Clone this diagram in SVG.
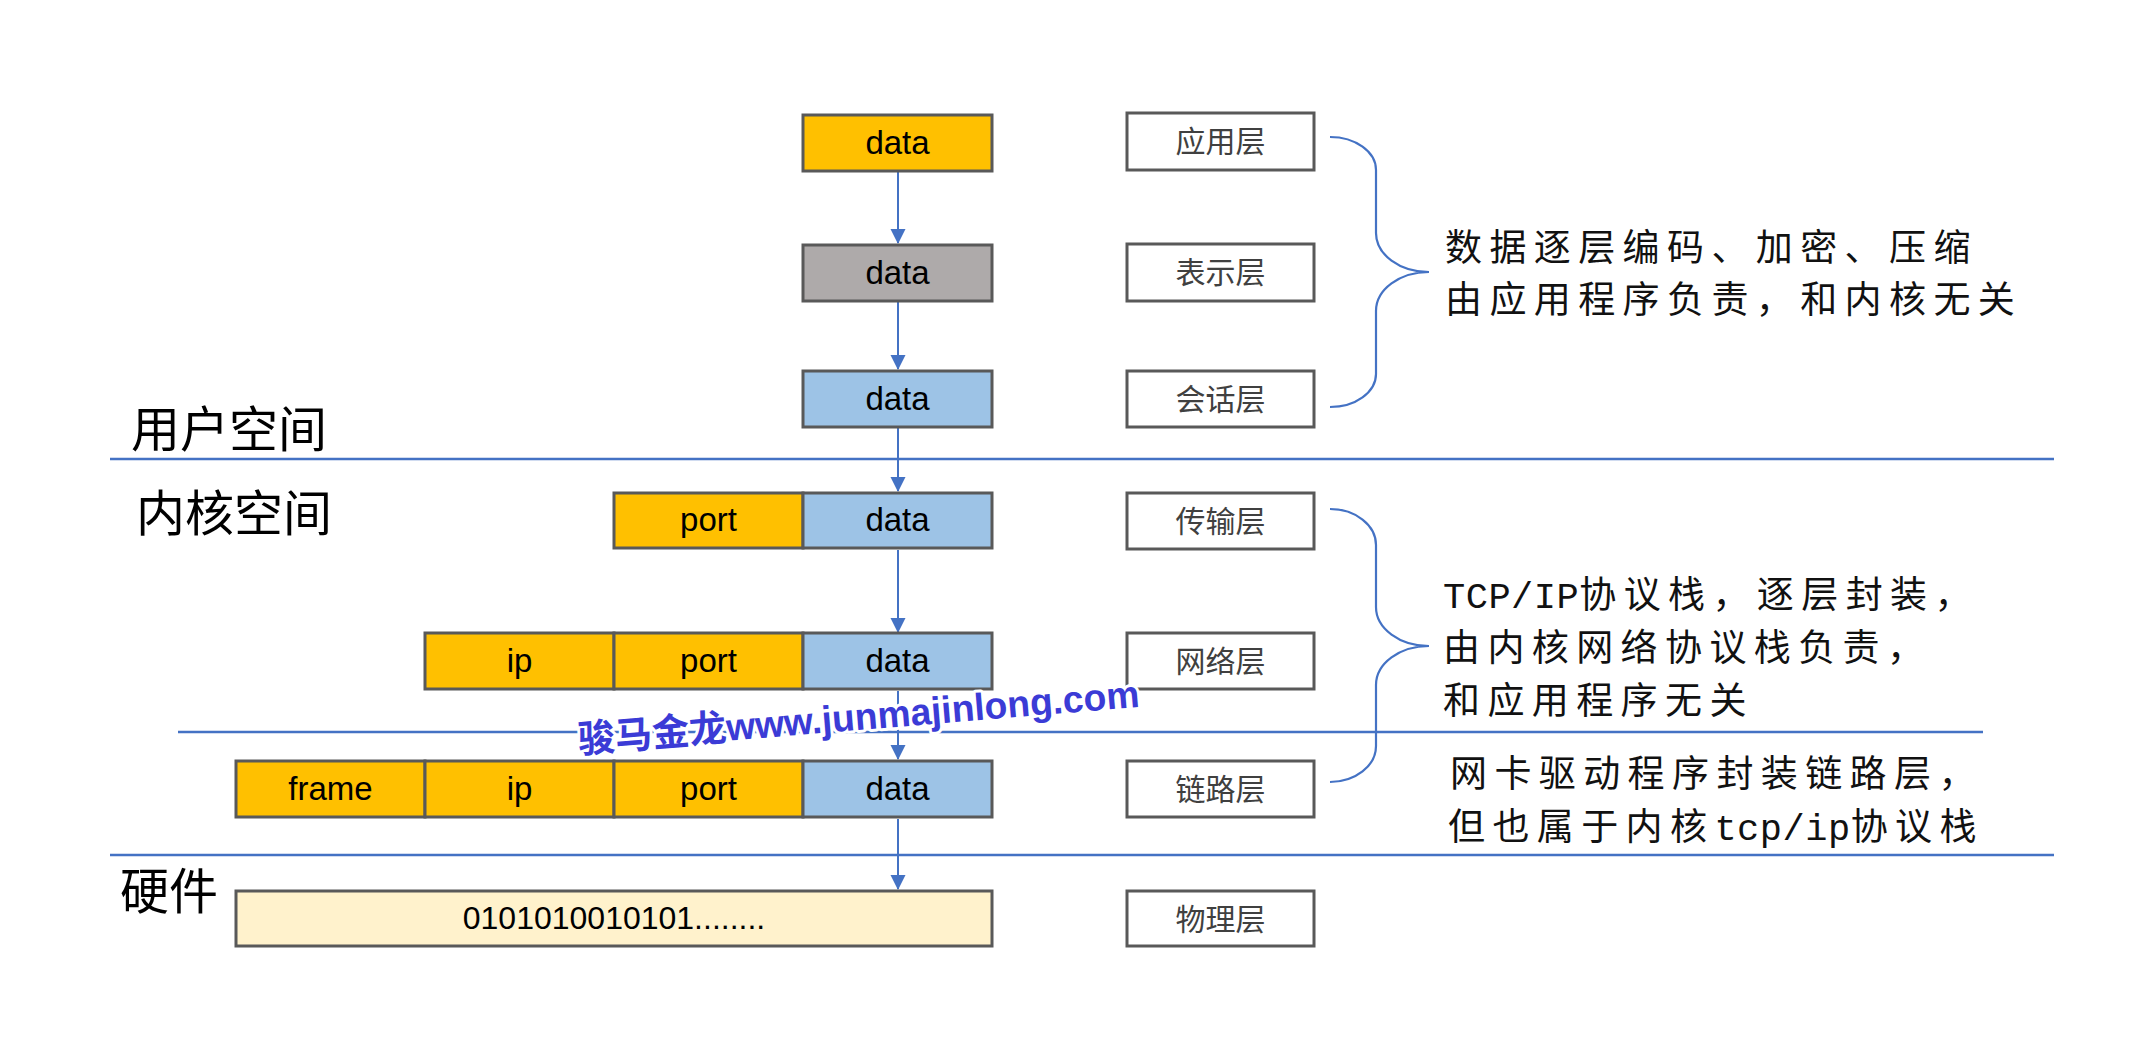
<svg xmlns="http://www.w3.org/2000/svg" width="2153" height="1046" viewBox="0 0 2153 1046">
<defs>
<marker id="arr" markerUnits="userSpaceOnUse" markerWidth="16" markerHeight="16" refX="14" refY="7.5" orient="auto">
<path d="M0,0 L15,7.5 L0,15 z" fill="#4472C4"/>
</marker>
<style>
.box{stroke:#595959;stroke-width:3}
.or{fill:#FFC000}.gr{fill:#AEAAAA}.bl{fill:#9DC3E6}.lt{fill:#FFF2CC}.wh{fill:#FFFFFF}
.bt{font-family:"Liberation Sans","DejaVu Sans",sans-serif;font-size:33px;fill:#000;text-anchor:middle}
.lb{font-family:"Noto Sans CJK SC",sans-serif;font-size:30px;fill:#404040;text-anchor:middle}
.big{font-family:"Noto Sans CJK SC",sans-serif;font-size:49px;fill:#000}
.para{font-family:"Noto Sans CJK SC",sans-serif;font-size:37px;fill:#111;letter-spacing:7.4px}
.mono{font-family:"Liberation Mono",monospace;letter-spacing:0.5px}
.sep{stroke:#4472C4;stroke-width:2.5;fill:none}
.con{stroke:#4472C4;stroke-width:2;fill:none}
.brace{stroke:#4472C4;stroke-width:2.2;fill:none}
.wm{font-family:"Liberation Sans","Noto Sans CJK SC",sans-serif;font-weight:bold;font-size:38px;fill:#3B3BD6;stroke:#FFFFFF;stroke-width:6;paint-order:stroke;stroke-linejoin:round}
</style>
</defs>
<rect width="2153" height="1046" fill="#FFFFFF"/>

<g id="separators">
<line class="sep" x1="110" y1="459" x2="2054" y2="459"/>
<line class="sep" x1="178" y1="732" x2="1983" y2="732"/>
<line class="sep" x1="110" y1="855" x2="2054" y2="855"/>
</g>

<g id="space-labels">
<text class="big" x="131" y="447">用户空间</text>
<text class="big" x="136" y="531">内核空间</text>
<text class="big" x="120" y="909">硬件</text>
</g>

<g id="connectors">
<line class="con" x1="898" y1="172" x2="898" y2="243" marker-end="url(#arr)"/>
<line class="con" x1="898" y1="302" x2="898" y2="369" marker-end="url(#arr)"/>
<line class="con" x1="898" y1="428" x2="898" y2="491" marker-end="url(#arr)"/>
<line class="con" x1="898" y1="550" x2="898" y2="632" marker-end="url(#arr)"/>
<line class="con" x1="898" y1="691" x2="898" y2="759" marker-end="url(#arr)"/>
<line class="con" x1="898" y1="819" x2="898" y2="889" marker-end="url(#arr)"/>
<path class="brace" d="M1330,137 A46,33 0 0 1 1376,170 L1376,233 A53,39 0 0 0 1429,272 A53,39 0 0 0 1376,311 L1376,374 A46,33 0 0 1 1330,407"/>
<path class="brace" d="M1330,509 A46,36 0 0 1 1376,545 L1376,607 A53,39 0 0 0 1429,646 A53,39 0 0 0 1376,685 L1376,746 A46,36 0 0 1 1330,782"/>
</g>

<g id="app-data">
<rect class="box or" x="803" y="115" width="189" height="56"/>
<text class="bt" x="897.5" y="154">data</text>
</g>
<g id="pres-data">
<rect class="box gr" x="803" y="245" width="189" height="56"/>
<text class="bt" x="897.5" y="284">data</text>
</g>
<g id="sess-data">
<rect class="box bl" x="803" y="371" width="189" height="56"/>
<text class="bt" x="897.5" y="410">data</text>
</g>
<g id="transport-pdu">
<rect class="box or" x="614" y="493" width="189" height="55"/>
<rect class="box bl" x="803" y="493" width="189" height="55"/>
<text class="bt" x="708.5" y="531">port</text>
<text class="bt" x="897.5" y="531">data</text>
</g>
<g id="network-pdu">
<rect class="box or" x="425" y="633" width="189" height="56"/>
<rect class="box or" x="614" y="633" width="189" height="56"/>
<rect class="box bl" x="803" y="633" width="189" height="56"/>
<text class="bt" x="519.5" y="672">ip</text>
<text class="bt" x="708.5" y="672">port</text>
<text class="bt" x="897.5" y="672">data</text>
</g>
<g id="link-pdu">
<rect class="box or" x="236" y="761" width="189" height="56"/>
<rect class="box or" x="425" y="761" width="189" height="56"/>
<rect class="box or" x="614" y="761" width="189" height="56"/>
<rect class="box bl" x="803" y="761" width="189" height="56"/>
<text class="bt" x="330.5" y="800">frame</text>
<text class="bt" x="519.5" y="800">ip</text>
<text class="bt" x="708.5" y="800">port</text>
<text class="bt" x="897.5" y="800">data</text>
</g>
<g id="physical-bits">
<rect class="box lt" x="236" y="891" width="756" height="55"/>
<text class="bt" x="614" y="929" style="font-size:32px">0101010010101........</text>
</g>

<g id="layer-app"><rect class="box wh" x="1127" y="113" width="187" height="57"/><text class="lb" x="1220.5" y="152">应用层</text></g>
<g id="layer-pres"><rect class="box wh" x="1127" y="244" width="187" height="57"/><text class="lb" x="1220.5" y="283">表示层</text></g>
<g id="layer-sess"><rect class="box wh" x="1127" y="371" width="187" height="56"/><text class="lb" x="1220.5" y="410">会话层</text></g>
<g id="layer-transport"><rect class="box wh" x="1127" y="493" width="187" height="56"/><text class="lb" x="1220.5" y="532">传输层</text></g>
<g id="layer-network"><rect class="box wh" x="1127" y="633" width="187" height="56"/><text class="lb" x="1220.5" y="672">网络层</text></g>
<g id="layer-link"><rect class="box wh" x="1127" y="761" width="187" height="56"/><text class="lb" x="1220.5" y="800">链路层</text></g>
<g id="layer-physical"><rect class="box wh" x="1127" y="891" width="187" height="55"/><text class="lb" x="1220.5" y="930">物理层</text></g>

<g id="note-upper">
<text class="para" x="1445" y="261">数据逐层编码、加密、压缩</text>
<text class="para" x="1445" y="313">由应用程序负责，和内核无关</text>
</g>
<g id="note-kernel">
<text class="para" x="1443" y="608"><tspan class="mono">TCP/IP</tspan>协议栈，逐层封装，</text>
<text class="para" x="1443" y="661">由内核网络协议栈负责，</text>
<text class="para" x="1443" y="714">和应用程序无关</text>
</g>
<g id="note-link">
<text class="para" x="1450" y="787">网卡驱动程序封装链路层，</text>
<text class="para" x="1448" y="840">但也属于内核<tspan class="mono">tcp/ip</tspan>协议栈</text>
</g>

<text class="wm" x="579" y="753" transform="rotate(-4.7 579 753)" textLength="563" lengthAdjust="spacingAndGlyphs">骏马金龙www.junmajinlong.com</text>
</svg>
